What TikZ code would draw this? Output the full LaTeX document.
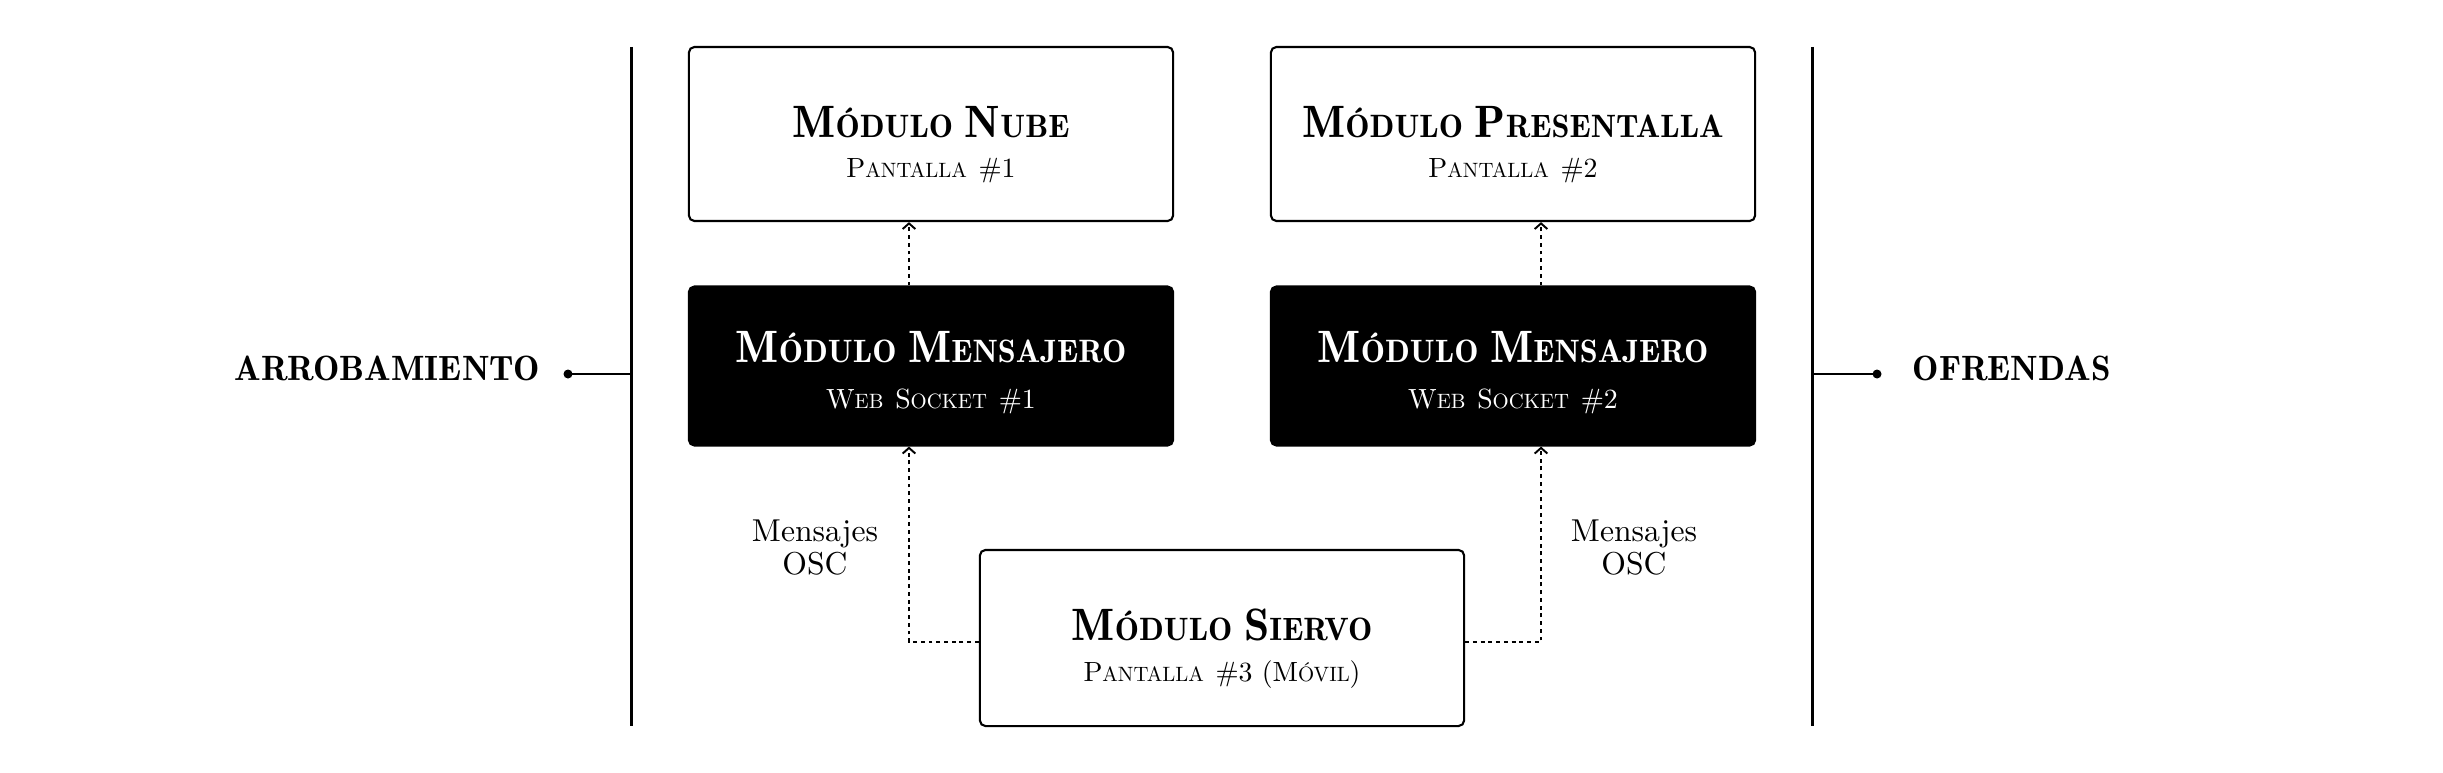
\documentclass[tikz,border=0pt]{standalone}
\usepackage{fontspec}
\setmainfont{lmroman10-regular.otf}[BoldFont=lmroman10-bold.otf, ItalicFont=lmroman10-italic.otf]
\newfontfamily\demi{lmromandemi10-regular.otf}
\usetikzlibrary{arrows.meta}
\newcommand\bigT[1]{{\fontsize{12.9pt}{14pt}\selectfont #1}}
\newcommand\smT[1]{{\fontsize{9.2pt}{10pt}\selectfont #1}}
\newcommand\bigS[1]{{\fontsize{7.9pt}{10pt}\selectfont #1}}
\newcommand\smS[1]{{\fontsize{5.9pt}{8pt}\selectfont #1}}
\tikzset{
  box/.style={draw=black, line width=0.6pt, rounded corners=1.6pt, minimum width=4.84cm, inner sep=0pt},
  darkbox/.style={box, fill=black},
  ttl/.style={anchor=base, inner sep=0pt, font=\demi},
  sub/.style={anchor=base, inner sep=0pt},
  side/.style={anchor=base, inner sep=0pt, font=\fontsize{10pt}{11pt}\selectfont\demi},
  conn/.style={line width=0.55pt, dash pattern=on 1.1pt off 1.1pt, -{Straight Barb[length=1.6pt,width=3.6pt]}},
  rail/.style={line width=0.85pt},
  lbl/.style={align=center, inner sep=0pt, font=\fontsize{9pt}{9.4pt}\selectfont},
}
\begin{document}
\begin{tikzpicture}[x=0.01cm,y=-0.01cm]
\useasboundingbox (0,0) rectangle (2443,773);
% boxes
\node[box, minimum height=1.74cm] (nube) at (931,134) {};
\node[box, minimum height=1.74cm] (pres) at (1513,134) {};
\node[darkbox, minimum height=1.59cm] (msj1) at (931,366) {};
\node[darkbox, minimum height=1.59cm] (msj2) at (1513,366) {};
\node[box, minimum height=1.76cm] (siervo) at (1222,638) {};
% texts
\node[ttl] (tnube) at (931,137) {\bigT{M}\smT{ÓDULO} \bigT{N}\smT{UBE}};
\node[sub] (snube) at (931,177) {\bigS{P}\smS{ANTALLA} \bigS{\#1}};
\node[ttl] (tpres) at (1513,137) {\bigT{M}\smT{ÓDULO} \bigT{P}\smT{RESENTALLA}};
\node[sub] (spres) at (1513,177) {\bigS{P}\smS{ANTALLA} \bigS{\#2}};
\node[ttl, text=white] (tmsj1) at (931,362) {\bigT{M}\smT{ÓDULO} \bigT{M}\smT{ENSAJERO}};
\node[sub, text=white] (smsj1) at (931,408) {\bigS{W}\smS{EB} \bigS{S}\smS{OCKET} \bigS{\#1}};
\node[ttl, text=white] (tmsj2) at (1513,362) {\bigT{M}\smT{ÓDULO} \bigT{M}\smT{ENSAJERO}};
\node[sub, text=white] (smsj2) at (1513,408) {\bigS{W}\smS{EB} \bigS{S}\smS{OCKET} \bigS{\#2}};
\node[ttl] (tsiervo) at (1222,640) {\bigT{M}\smT{ÓDULO} \bigT{S}\smT{IERVO}};
\node[sub] (ssiervo) at (1222,681) {\bigS{P}\smS{ANTALLA} \bigS{\#3 (M}\smS{ÓVIL}\bigS{)}};
% labels
\node[lbl] (l1) at (815,548) {Mensajes\\OSC};
\node[lbl] (l2) at (1634,548) {Mensajes\\OSC};
% connectors
\draw[conn] ([xshift=-0.22cm]msj1.north) -- ([xshift=-0.22cm]nube.south);
\draw[conn] ([xshift=0.28cm]msj2.north) -- ([xshift=0.28cm]pres.south);
\draw[conn] ([yshift=-0.04cm]siervo.west) -| ([xshift=-0.22cm]msj1.south);
\draw[conn] ([yshift=-0.04cm]siervo.east) -| ([xshift=0.28cm]msj2.south);
% rails
\coordinate (lt) at (631,47);
\coordinate (lb) at (631,726);
\coordinate (rt) at (1812,47);
\coordinate (rb) at (1812,726);
\draw[rail] (lt) -- (lb);
\draw[rail] (rt) -- (rb);
\coordinate (lm) at (631,374);
\coordinate (rm) at (1812,374);
\node[side, anchor=base east] (arro) at (541,380) {ARROBAMIENTO};
\node[side, anchor=base west] (ofr) at (1912,380) {OFRENDAS};
\coordinate (ld) at (568,374);
\coordinate (rd) at (1877,374);
\draw[rail] (lm) -- (ld);
\draw[rail] (rm) -- (rd);
\fill (ld) circle (0.045cm);
\fill (rd) circle (0.045cm);
\end{tikzpicture}
\end{document}
